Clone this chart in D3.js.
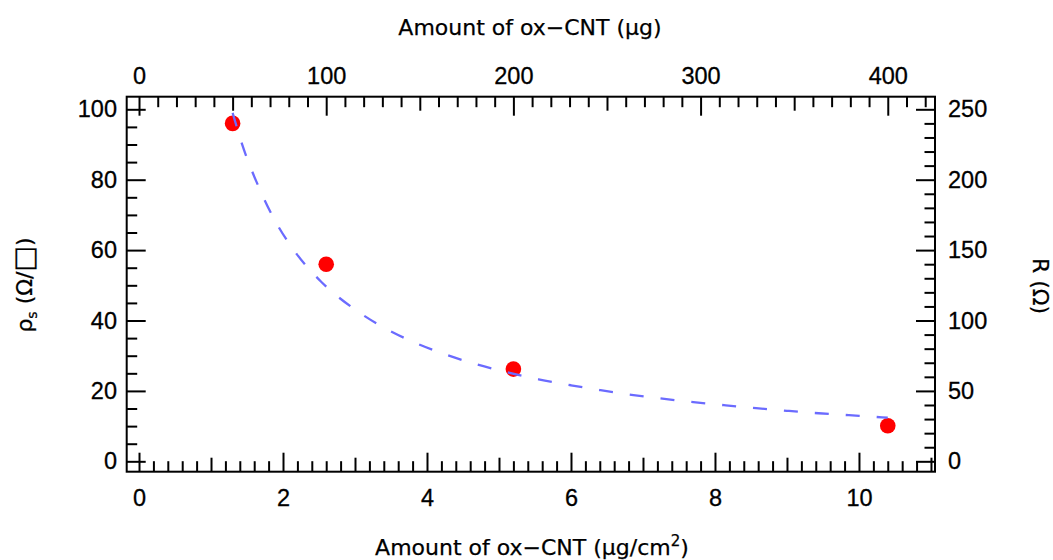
<!DOCTYPE html>
<html>
<head>
<meta charset="utf-8">
<script src="https://cdn.jsdelivr.net/npm/d3@7"></script>
<style>
  html, body { margin: 0; padding: 0; background: #fff; }
  svg { display: block; }
</style>
</head>
<body>
<svg id="chart" width="1053" height="560"></svg>
<script>
// measured points: x in ug/cm2, y = sheet resistance (ohm/sq)
const loadingX = [1.3, 2.6, 5.2, 10.4];
const rhoS = [96, 56, 26.2, 10.1];

// dashed fit curve
const fitX = [1.3, 1.43, 1.67, 1.88, 2.15, 2.53, 2.96, 3.39, 3.81, 4.25, 4.68, 5.11, 5.55, 6.0, 6.41, 6.84, 7.27, 7.7, 8.15, 8.57, 9.0, 9.44, 9.86, 10.32, 10.4];
const fitY = [99, 90.2, 77.6, 68.7, 60, 51, 43.7, 38.1, 33.9, 30.4, 27.6, 25.3, 23.3, 21.6, 20.2, 18.9, 17.8, 16.8, 15.9, 15.1, 14.35, 13.65, 13.1, 12.5, 12.4];

const bottomTicks = [0, 2, 4, 6, 8, 10];
const topTicks = [0, 100, 200, 300, 400];
const leftTicks = [0, 20, 40, 60, 80, 100];
const rightTicks = [0, 50, 100, 150, 200, 250];

const ugPerUnit = 100 / 2.6;   // top axis: ug  vs  ug/cm2
const ohmPerSq = 2.5;          // right axis: R vs rho_s

const W = 1053, H = 560;
const Frame = {left: 126.7, right: 935, top: 96.7, bottom: 471.7};

const SVG = d3.select("#chart");
SVG.append("rect").attr("width", W).attr("height", H).attr("fill", "#fff");

const X = d3.scaleLinear().domain([-0.171, 11.056]).range([Frame.left, Frame.right]);
const XTop = d3.scaleLinear().domain(X.domain().map(v => v * ugPerUnit)).range(X.range());
const Y = d3.scaleLinear().domain([-2.95, 103.58]).range([Frame.bottom, Frame.top]);
const YRight = d3.scaleLinear().domain(Y.domain().map(v => v * ohmPerSq)).range(Y.range());

const tickFont = "'Liberation Sans', Arial, sans-serif";
const titleFont = "'DejaVu Sans', sans-serif";
const LONG = 19, MED = 14, SHORT = 10.5;

function styleAxis(g) {
  g.attr("font-family", null).attr("font-size", null);
  g.select(".domain").remove();
  g.selectAll(".tick line").attr("stroke", "#000").attr("stroke-width", 2);
  g.selectAll(".tick text")
    .attr("fill", "#000")
    .attr("stroke", "#000").attr("stroke-width", 0.3)
    .style("font-family", tickFont)
    .style("font-size", "23.5px");
}

const notIn = list => v => !list.some(t => Math.abs(t - v) < 1e-6);

// bottom axis: major / medium / minor
const bottomMed = [1, 3, 5, 7, 9, 11];
const bottomMinor = d3.range(0, 56).map(i => +(i * 0.2).toFixed(1)).filter(notIn(bottomTicks.concat(bottomMed)));
SVG.append("g").attr("transform", `translate(0,${Frame.bottom})`)
  .call(d3.axisBottom(X).tickValues(bottomMinor).tickFormat("").tickSizeInner(-SHORT).tickSizeOuter(0)).call(styleAxis);
SVG.append("g").attr("transform", `translate(0,${Frame.bottom})`)
  .call(d3.axisBottom(X).tickValues(bottomMed).tickFormat("").tickSizeInner(-MED).tickSizeOuter(0)).call(styleAxis);
SVG.append("g").attr("transform", `translate(0,${Frame.bottom})`)
  .call(d3.axisBottom(X).tickValues(bottomTicks).tickFormat(d3.format("d")).tickSizeInner(-LONG).tickSizeOuter(0).tickPadding(17.6)).call(styleAxis);

// top axis
const topMed = [50, 150, 250, 350];
const topMinor = d3.range(0, 43).map(i => i * 10).filter(notIn(topTicks.concat(topMed)));
SVG.append("g").attr("transform", `translate(0,${Frame.top})`)
  .call(d3.axisTop(XTop).tickValues(topMinor).tickFormat("").tickSizeInner(-SHORT).tickSizeOuter(0)).call(styleAxis);
SVG.append("g").attr("transform", `translate(0,${Frame.top})`)
  .call(d3.axisTop(XTop).tickValues(topMed).tickFormat("").tickSizeInner(-MED).tickSizeOuter(0)).call(styleAxis);
SVG.append("g").attr("transform", `translate(0,${Frame.top})`)
  .call(d3.axisTop(XTop).tickValues(topTicks).tickFormat(d3.format("d")).tickSizeInner(-LONG).tickSizeOuter(0).tickPadding(12.7)).call(styleAxis);

// left axis
const leftMinor = d3.range(0, 21).map(i => i * 5).filter(notIn(leftTicks));
SVG.append("g").attr("transform", `translate(${Frame.left},0)`)
  .call(d3.axisLeft(Y).tickValues(leftMinor).tickFormat("").tickSizeInner(-SHORT).tickSizeOuter(0)).call(styleAxis);
SVG.append("g").attr("transform", `translate(${Frame.left},0)`)
  .call(d3.axisLeft(Y).tickValues(leftTicks).tickFormat(d3.format("d")).tickSizeInner(-LONG).tickSizeOuter(0).tickPadding(9.7)).call(styleAxis);

// right axis
const rightMinor = d3.range(0, 26).map(i => i * 10).filter(notIn(rightTicks));
SVG.append("g").attr("transform", `translate(${Frame.right},0)`)
  .call(d3.axisRight(YRight).tickValues(rightMinor).tickFormat("").tickSizeInner(-SHORT).tickSizeOuter(0)).call(styleAxis);
SVG.append("g").attr("transform", `translate(${Frame.right},0)`)
  .call(d3.axisRight(YRight).tickValues(rightTicks).tickFormat(d3.format("d")).tickSizeInner(-LONG).tickSizeOuter(0).tickPadding(13)).call(styleAxis);

// frame
SVG.append("rect")
  .attr("x", Frame.left).attr("y", Frame.top)
  .attr("width", Frame.right - Frame.left).attr("height", Frame.bottom - Frame.top)
  .attr("fill", "none").attr("stroke", "#000").attr("stroke-width", 2);

// points
SVG.append("g").selectAll("circle")
  .data(loadingX.map((x, i) => [x, rhoS[i]]))
  .join("circle")
  .attr("cx", d => X(d[0]))
  .attr("cy", d => Y(d[1]))
  .attr("r", 7.8)
  .attr("fill", "#ff0000");

// fit
const line = d3.line().x(d => X(d[0])).y(d => Y(d[1])).curve(d3.curveMonotoneX);
SVG.append("path")
  .datum(fitX.map((x, i) => [x, fitY[i]]))
  .attr("d", line)
  .attr("fill", "none")
  .attr("stroke", "#6b6bff")
  .attr("stroke-width", 2.3)
  .attr("stroke-dasharray", "14,17");

// titles
const titleStyle = t => t
  .style("font-family", titleFont).style("font-size", "22px")
  .attr("fill", "#000").attr("stroke", "#000").attr("stroke-width", 0.25);

SVG.append("text")
  .attr("x", 530).attr("y", 35)
  .attr("text-anchor", "middle")
  .call(titleStyle)
  .text("Amount of ox\u2212CNT (\u03bcg)");

const bt = SVG.append("text")
  .attr("x", 532).attr("y", 555)
  .attr("text-anchor", "middle")
  .call(titleStyle);
bt.append("tspan").text("Amount of ox\u2212CNT (\u03bcg/cm");
bt.append("tspan").attr("dy", -9).style("font-size", "15px").text("2");
bt.append("tspan").attr("dy", 9).text(")");

const lt = SVG.append("text")
  .attr("transform", "translate(32,285) rotate(-90)")
  .attr("text-anchor", "middle")
  .call(titleStyle);
lt.append("tspan").text("\u03c1");
lt.append("tspan").attr("dy", 5).style("font-size", "14px").text("s");
lt.append("tspan").attr("dy", -5).text(" (\u03a9/");
lt.append("tspan").style("font-size", "27px").attr("dy", 1).text("\u25a1");
lt.append("tspan").attr("dy", -1).text(")");

SVG.append("text")
  .attr("transform", "translate(1033,286) rotate(90)")
  .attr("text-anchor", "middle")
  .call(titleStyle)
  .text("R (\u03a9)");
</script>
</body>
</html>
